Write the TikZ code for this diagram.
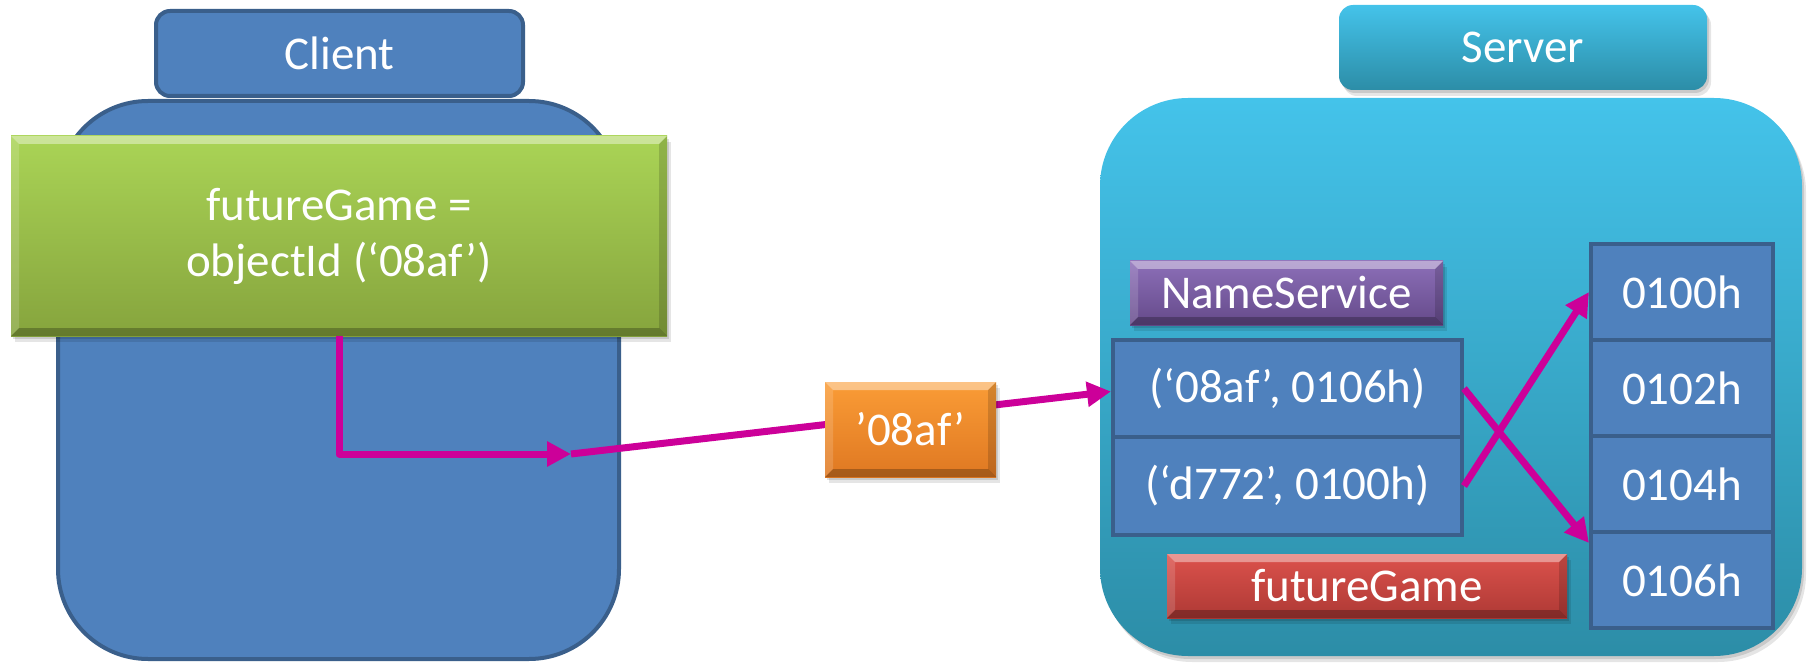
\documentclass[tikz,border=0pt]{standalone}
\usepackage{fontspec}
\setmainfont{Carlito}
\usetikzlibrary{arrows.meta}

\definecolor{boxblue}{HTML}{4F81BD}
\definecolor{boxedge}{HTML}{3A5F8B}
\definecolor{greentop}{HTML}{AAD456}
\definecolor{greenbot}{HTML}{86A43D}
\definecolor{orangetop}{HTML}{FA9C36}
\definecolor{orangebot}{HTML}{DF7822}
\definecolor{purpletop}{HTML}{8C6FB8}
\definecolor{purplebot}{HTML}{654A8A}
\definecolor{redtop}{HTML}{DC524C}
\definecolor{redbot}{HTML}{AE3935}
\definecolor{cyantop}{HTML}{44C3EA}
\definecolor{cyanbot}{HTML}{2C8DA7}
\definecolor{arrowmag}{HTML}{CC0099}

\tikzset{
  lbl/.style={text=white, font=\fontsize{47pt}{56pt}\selectfont, align=center, inner sep=0pt},
  flatbox/.style={lbl, draw=boxedge, fill=boxblue, line width=4pt},
  softshadow/.style={
    preaction={fill=black, fill opacity=.12, transform canvas={xshift=2pt,yshift=-3pt}},
    preaction={fill=black, fill opacity=.10, transform canvas={xshift=4pt,yshift=-6pt}}},
  bevel/.style={path picture={
    \fill[white,opacity=.40] (path picture bounding box.north west) -- (path picture bounding box.north east)
      -- ([shift={(-#1,-#1)}]path picture bounding box.north east) -- ([shift={(#1,-#1)}]path picture bounding box.north west) -- cycle;
    \fill[white,opacity=.15] (path picture bounding box.north west) -- ([shift={(#1,-#1)}]path picture bounding box.north west)
      -- ([shift={(#1,#1)}]path picture bounding box.south west) -- (path picture bounding box.south west) -- cycle;
    \fill[black,opacity=.25] (path picture bounding box.south west) -- (path picture bounding box.south east)
      -- ([shift={(-#1,#1)}]path picture bounding box.south east) -- ([shift={(#1,#1)}]path picture bounding box.south west) -- cycle;
    \fill[black,opacity=.15] (path picture bounding box.north east) -- (path picture bounding box.south east)
      -- ([shift={(-#1,#1)}]path picture bounding box.south east) -- ([shift={(-#1,-#1)}]path picture bounding box.north east) -- cycle;
  }},
  gloss/.style 2 args={lbl, top color=#1, bottom color=#2, softshadow},
  gelbox/.style 2 args={gloss={#1}{#2}, bevel=8pt},
  link/.style={draw=arrowmag, line width=7pt, line join=round, -{Triangle[length=24pt,width=24pt]}},
}

\begin{document}
\begin{tikzpicture}[x=1pt,y=-1pt]
\useasboundingbox (0,0) rectangle (1808,663);

% client side
\node[flatbox, rounded corners=90pt, minimum width=561pt, minimum height=558pt] (clientbody) at (338.5,380) {};
\node[flatbox, rounded corners=14pt, minimum width=367pt, minimum height=85pt] (clientlabel) at (339.5,53.5) {Client};
\node[gelbox={greentop}{greenbot}, minimum width=656pt, minimum height=200pt] (fgcall) at (339,236) {futureGame =\\objectId (‘08af’)};

% server side
\node[gloss={cyantop}{cyanbot}, rounded corners=88pt, minimum width=702pt, minimum height=558pt] (serverbody) at (1451,377) {};
\node[gloss={cyantop}{cyanbot}, rounded corners=14pt, minimum width=368pt, minimum height=85pt] (serverlabel) at (1523,47.5) {Server};
\node[gelbox={purpletop}{purplebot}, minimum width=313pt, minimum height=64pt] (names) at (1286.5,293) {NameService};
\node[flatbox, minimum width=349pt, minimum height=97pt] (row1) at (1287.5,388.5) {(‘08af’, 0106h)};
\node[flatbox, minimum width=349pt, minimum height=98pt] (row2) at (1287.5,486) {(‘d772’, 0100h)};
\node[gelbox={redtop}{redbot}, minimum width=400pt, minimum height=64pt] (fgobj) at (1367,586) {futureGame};

% memory cells
\node[flatbox, minimum width=182pt, minimum height=96pt] (m100) at (1682,292) {0100h};
\node[flatbox, minimum width=182pt, minimum height=96pt] (m102) at (1682,388) {0102h};
\node[flatbox, minimum width=182pt, minimum height=96pt] (m104) at (1682,484) {0104h};
\node[flatbox, minimum width=182pt, minimum height=96pt] (m106) at (1682,580) {0106h};

% request path from client to the name service
\coordinate (relay) at (571,454);
\draw[link] (fgcall.south) |- (relay);
\draw[link] (relay) -- ([yshift=-3pt]row1.west);
\node[gelbox={orangetop}{orangebot}, minimum width=171pt, minimum height=95pt] (msg) at (910.5,429.5) {’08af’};

% name lookups into memory
\draw[link] (row1.east) -- ([yshift=-13pt]m106.north west);
\draw[link] (row2.east) -- (m100.west);
\end{tikzpicture}
\end{document}
